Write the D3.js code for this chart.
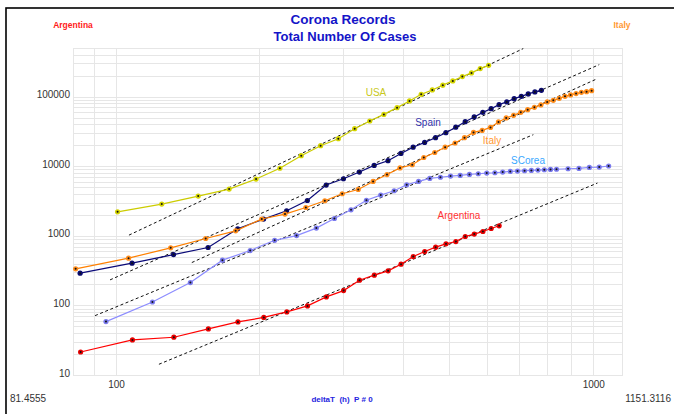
<!DOCTYPE html>
<html>
<head>
<meta charset="utf-8">
<script src="https://cdn.jsdelivr.net/npm/d3@7"></script>
<style>
  body { margin: 0; background: #fff; }
  svg { display: block; font-family: "Liberation Sans", Arial, sans-serif; }
</style>
</head>
<body>
<div class="chart"></div>
<script>
// hours since start (deltaT) and total cases per country
var usaHours = [101,125,149,173,197,221,245,269,293,317,341,365,389,413,437,461,485,509,533,557,581,605];
var usaCases = [2215,2858,3726,4699,6542,9356,14160,19720,24880,34640,44690,55610,69470,86730,107900,124800,146300,168300,194000,219300,252900,281900];

var spainHours = [84.3,108.3,132.3,156.3,180.3,204.3,228.3,252.3,276.3,300.3,324.3,348.3,372.3,396.3,420.3,444.3,468.3,492.3,516.3,540.3,564.3,588.3,612.3,636.3,660.3,684.3,708.3,732.3,756.3,780.3];
var spainCases = [291,405,538,679,1261,1739,2289,3220,5363,6610,8253,10270,12000,15285,18770,22000,25700,30340,36400,43650,51050,59430,67150,76740,83950,93590,101000,109400,116900,123300];

var italyHours = [82.5,106.5,130.5,154.5,178.5,202.5,226.5,250.5,274.5,298.5,322.5,346.5,370.5,394.5,418.5,442.5,466.5,490.5,514.5,538.5,562.5,586.5,610.5,634.5,658.5,682.5,706.5,730.5,754.5,778.5,802.5,826.5,850.5,874.5,898.5,922.5,946.5,970.5,994.5];
var italyCases = [335,478,672,915,1180,1745,2052,2554,3189,4021,4637,6044,7597,9452,10510,13340,15740,18770,21570,25700,30640,32740,36160,43250,49370,53820,59450,65020,70150,75960,83880,88480,94530,101000,105800,110500,115300,118000,122000];

var scoreaHours = [95.5,119.5,143.5,167.5,191.5,215.5,239.5,263.5,287.5,311.5,335.5,359.5,383.5,407.5,431.5,455.5,479.5,503.5,527.5,551.5,575.5,599.5,623.5,647.5,671.5,695.5,719.5,743.5,767.5,791.5,815.5,839.5,887.5,935.5,983.5,1031.5,1079.5];
var scoreaCases = [58.5,112,213,447,614,862,1007,1291,1774,2366,3242,3851,4442,5416,6044,6676,6946,7228,7372,7621,7800,7983,8063,8250,8418,8529,8616,8700,8815,8900,8995,9050,9204,9296,9610,9737,10070];

var argHours = [84.5,108.5,132.5,156.5,180.5,204.5,228.5,252.5,276.5,300.5,324.5,348.5,372.5,396.5,420.5,444.5,468.5,492.5,516.5,540.5,564.5,588.5,612.5,636.5];
var argCases = [21.4,31.9,34.9,45.9,57.9,67.2,80.6,98.4,132.5,163.3,230.5,272,313.6,391.5,503.7,594.6,687.6,767.2,827.9,977,1058,1153,1274,1393];

// power-law fit lines: [hours, cases] at start and end
var fitStart = [[106.7,1023],[97.4,232.8],[144.5,412.8],[90.6,71.3],[123.3,14.26]];
var fitEnd = [[715,490500],[1031.7,288700],[1022.8,181600],[750.6,28400],[1022.8,5733]];

var xDomain = [81.4555, 1151.3116];
var yDomain = [10, 500000];
var xGrid = [90,100,200,300,400,500,600,700,800,900,1000];
var xTickLabels = [100, 1000];
var yTickLabels = [10, 100, 1000, 10000, 100000];

var width = 674, height = 414;
var plotL = 73, plotR = 622, plotT = 48, plotB = 375;

var x = d3.scaleLog().domain(xDomain).range([plotL, plotR]);
var y = d3.scaleLog().domain(yDomain).range([plotB, plotT]);

var svg = d3.select('.chart').append('svg').attr('width', width).attr('height', height);

// outer frame
svg.append('rect').attr('x', 6).attr('y', 8).attr('width', 720).attr('height', 460)
  .attr('fill', 'none').attr('stroke', '#000').attr('stroke-width', 1.6);

// grid
var yGrid = [];
for (var p = 10; p < 1000000; p *= 10) {
  for (var m = 1; m < 10; m++) {
    var v = p * m;
    if (v >= yDomain[0] && v <= yDomain[1]) yGrid.push(v);
  }
}
var grid = svg.append('g').attr('stroke', '#e6e6e6').attr('stroke-width', 1);
grid.selectAll('.hl').data(yGrid).enter().append('line')
  .attr('x1', plotL).attr('x2', plotR)
  .attr('y1', function(d){ return Math.round(y(d)) + 0.5; })
  .attr('y2', function(d){ return Math.round(y(d)) + 0.5; });
grid.selectAll('.vl').data(xGrid).enter().append('line')
  .attr('y1', plotT).attr('y2', plotB)
  .attr('x1', function(d){ return Math.round(x(d)) + 0.5; })
  .attr('x2', function(d){ return Math.round(x(d)) + 0.5; });
grid.append('rect').attr('x', plotL + 0.5).attr('y', plotT + 0.5)
  .attr('width', plotR - plotL).attr('height', plotB - plotT).attr('fill', 'none');

// tick labels
svg.selectAll('.ylab').data(yTickLabels).enter().append('text')
  .attr('x', 70).attr('y', function(d){ return y(d) + 1.5; })
  .attr('text-anchor', 'end').attr('font-size', 10).attr('fill', '#333')
  .text(function(d){ return d; });
svg.selectAll('.xlab').data(xTickLabels).enter().append('text')
  .attr('x', function(d){ return x(d) + 1; }).attr('y', 388)
  .attr('text-anchor', 'middle').attr('font-size', 10).attr('fill', '#333')
  .text(function(d){ return d; });
svg.append('text').attr('x', 10).attr('y', 402).attr('font-size', 10).attr('fill', '#333').text(xDomain[0]);
svg.append('text').attr('x', 671).attr('y', 402).attr('text-anchor', 'end').attr('font-size', 10).attr('fill', '#333').text(xDomain[1]);
svg.append('text').attr('x', 342).attr('y', 402).attr('text-anchor', 'middle')
  .attr('font-size', 8).attr('font-weight', 'bold').attr('fill', '#2424e0')
  .attr('xml:space', 'preserve').text('deltaT  (h)  P # 0');

// titles
svg.append('text').attr('x', 343).attr('y', 24).attr('text-anchor', 'middle')
  .attr('font-size', 13.5).attr('font-weight', 'bold').attr('fill', '#1414c8').text('Corona Records');
svg.append('text').attr('x', 345).attr('y', 41).attr('text-anchor', 'middle')
  .attr('font-size', 13).attr('font-weight', 'bold').attr('fill', '#1414c8').text('Total Number Of Cases');
svg.append('text').attr('x', 73).attr('y', 28).attr('text-anchor', 'middle')
  .attr('font-size', 8.5).attr('font-weight', 'bold').attr('fill', '#ff1a1a').text('Argentina');
svg.append('text').attr('x', 622).attr('y', 28).attr('text-anchor', 'middle')
  .attr('font-size', 8.5).attr('font-weight', 'bold').attr('fill', '#ff9933').text('Italy');

// fit lines
svg.selectAll('.fit').data(fitStart).enter().append('line')
  .attr('x1', function(d){ return x(d[0]); }).attr('y1', function(d){ return y(d[1]); })
  .attr('x2', function(d, i){ return x(fitEnd[i][0]); }).attr('y2', function(d, i){ return y(fitEnd[i][1]); })
  .attr('stroke', '#111').attr('stroke-width', 1).attr('stroke-dasharray', '3,2.5');

var series = [
  {name: 'USA', hours: usaHours, cases: usaCases, line: '#cccc00', dot: '#d4d400', lx: 376, ly: 92, lc: '#c8c820'},
  {name: 'Spain', hours: spainHours, cases: spainCases, line: '#0a0a78', dot: '#0a0a6e', lx: 428, ly: 122, lc: '#3333aa'},
  {name: 'Italy', hours: italyHours, cases: italyCases, line: '#ff8000', dot: '#ff8c1a', lx: 492, ly: 140, lc: '#ff9933'},
  {name: 'SCorea', hours: scoreaHours, cases: scoreaCases, line: '#8c8cff', dot: '#7a7aee', lx: 528, ly: 160, lc: '#3aa8ff'},
  {name: 'Argentina', hours: argHours, cases: argCases, line: '#ff0000', dot: '#e80000', lx: 459, ly: 215, lc: '#ff3333'}
];

var line = d3.line().x(function(d){ return x(d[0]); }).y(function(d){ return y(d[1]); });

series.forEach(function(s){
  var pts = s.hours.map(function(h, i){ return [h, s.cases[i]]; });
  var g = svg.append('g');
  g.append('path').attr('d', line(pts)).attr('fill', 'none')
    .attr('stroke', s.line).attr('stroke-width', 1.2);
  g.selectAll('.dot').data(pts).enter().append('circle')
    .attr('cx', function(d){ return x(d[0]); }).attr('cy', function(d){ return y(d[1]); })
    .attr('r', 2.6).attr('fill', s.dot);
  g.selectAll('.ctr').data(pts).enter().append('circle')
    .attr('cx', function(d){ return x(d[0]); }).attr('cy', function(d){ return y(d[1]); })
    .attr('r', 1).attr('fill', '#111');
  svg.append('text').attr('x', s.lx).attr('y', s.ly + 3.5).attr('text-anchor', 'middle')
    .attr('font-size', 10).attr('fill', s.lc).text(s.name);
});
</script>
</body>
</html>
